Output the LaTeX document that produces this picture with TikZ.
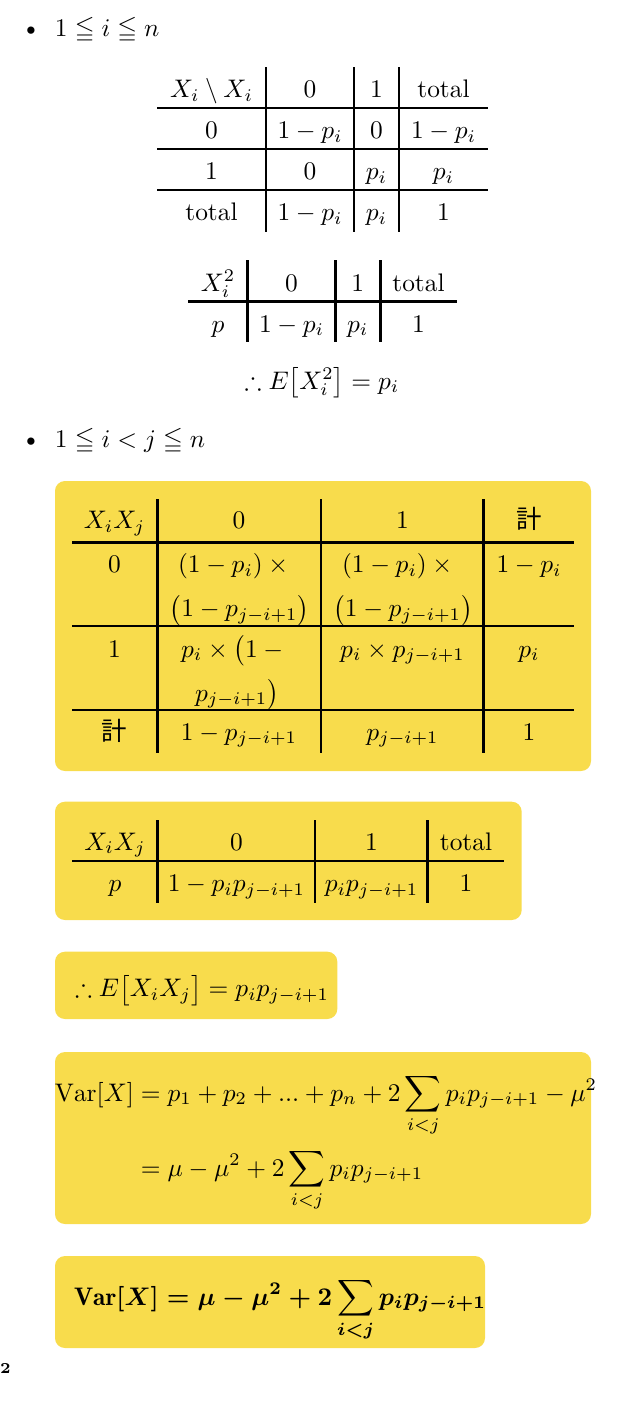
\documentclass[tikz,border=0pt]{standalone}
\usepackage{amsmath,amssymb}
\usepackage{fontspec}
\newfontfamily\cjk{Noto Sans CJK JP}
\usetikzlibrary{calc}
\definecolor{boxyellow}{HTML}{F8DC4C}
\newcommand\myfinaltext{{\mathversion{bold}$\displaystyle\mathrm{Var}[X]=\mu-\mu^2+2\sum_{i<j}p_ip_{j-i+1}$}}
\begin{document}
\begin{tikzpicture}[x=0.3937pt,y=-0.3937pt,
  txt/.style={anchor=base,inner sep=0pt,outer sep=0pt},
  txtl/.style={anchor=base west,inner sep=0pt,outer sep=0pt},
  rule/.style={line width=1pt,line cap=butt},
  ybox/.style={fill=boxyellow,draw=none,rounded corners=3.9pt}]
\useasboundingbox (0,0) rectangle (644,1402);

% ---------- bullet 1 ----------
\node[txt]  (b1) at (31,36) {\textbullet};
\node[txtl] (c1) at (55,36) {$1\leqq i\leqq n$};

% ---------- table 1 ----------
\foreach \x in {266,354,399} \draw[rule] (\x,67) -- (\x,232);
\foreach \y in {108,149,190} \draw[rule] (157,\y) -- (488,\y);
\node[txt] (ta00) at (211.5,97.5) {$X_i\setminus X_i$};
\node[txt] (ta01) at (310,97.5) {$0$};
\node[txt] (ta02) at (376.5,97.5) {$1$};
\node[txt] (ta03) at (443.5,97.5) {total};
\node[txt] (ta10) at (211.5,138.5) {$0$};
\node[txt] (ta11) at (310,138.5) {$1-p_i$};
\node[txt] (ta12) at (376.5,138.5) {$0$};
\node[txt] (ta13) at (443.5,138.5) {$1-p_i$};
\node[txt] (ta20) at (211.5,179.5) {$1$};
\node[txt] (ta21) at (310,179.5) {$0$};
\node[txt] (ta22) at (376.5,179.5) {$p_i$};
\node[txt] (ta23) at (443.5,179.5) {$p_i$};
\node[txt] (ta30) at (211.5,220.5) {total};
\node[txt] (ta31) at (310,220.5) {$1-p_i$};
\node[txt] (ta32) at (376.5,220.5) {$p_i$};
\node[txt] (ta33) at (443.5,220.5) {$1$};

% ---------- table 2 ----------
\foreach \x in {247.7,335.3,380.3} \draw[rule] (\x,260) -- (\x,342);
\draw[rule] (188.3,301.7) -- (456.7,301.7);
\node[txt] (tb00) at (218,291) {$X_i^2$};
\node[txt] (tb01) at (291.5,291) {$0$};
\node[txt] (tb02) at (357.8,291) {$1$};
\node[txt] (tb03) at (418.5,291) {total};
\node[txt] (tb10) at (218,332) {$p$};
\node[txt] (tb11) at (291.5,332) {$1-p_i$};
\node[txt] (tb12) at (357.8,332) {$p_i$};
\node[txt] (tb13) at (418.5,332) {$1$};

\node[txt] (ea) at (322,389) {$\therefore E\bigl[X_i^2\bigr]=p_i$};

% ---------- bullet 2 ----------
\node[txt]  (b2) at (31,447) {\textbullet};
\node[txtl] (c2) at (55,447) {$1\leqq i<j\leqq n$};

% ---------- box 1 : table 3 ----------
\path[ybox] (55,481) rectangle (591,771);
\foreach \x in {157.3,321,483.7} \draw[rule] (\x,499) -- (\x,753);
\foreach \y in {542.3,626,710} \draw[rule] (72.3,\y) -- (574,\y);
\node[txt] (tc00) at (114.5,528.3) {$X_iX_j$};
\node[txt] (tc01) at (239,528.3) {$0$};
\node[txt] (tc02) at (402.5,528.3) {$1$};
\node[txt] (tc03) at (529,528.3) {\cjk 計};
\node[txt] (tc10) at (114.5,572.7) {$0$};
\node[txt] (tc11a) at (236,572.7) {$(1-p_i)\times{}$};
\node[txt] (tc11b) at (239.5,616.7) {$\bigl(1-p_{j-i+1}\bigr)$};
\node[txt] (tc12a) at (400,572.7) {$(1-p_i)\times{}$};
\node[txt] (tc12b) at (403,616.7) {$\bigl(1-p_{j-i+1}\bigr)$};
\node[txt] (tc13) at (529,572.7) {$1-p_i$};
\node[txt] (tc20) at (114.5,657) {$1$};
\node[txt] (tc21a) at (235,657) {$p_i\times\bigl(1-{}$};
\node[txt] (tc21b) at (237,701) {$p_{j-i+1}\bigr)$};
\node[txt] (tc22) at (402.5,657) {$p_i\times p_{j-i+1}$};
\node[txt] (tc23) at (529,657) {$p_i$};
\node[txt] (tc30) at (114.5,740) {\cjk 計};
\node[txt] (tc31) at (239,740) {$1-p_{j-i+1}$};
\node[txt] (tc32) at (402.5,740) {$p_{j-i+1}$};
\node[txt] (tc33) at (529,740) {$1$};

% ---------- box 2 : table 4 ----------
\path[ybox] (55,801.7) rectangle (521.7,920);
\foreach \x in {157.7,315,427.7} \draw[rule] (\x,820) -- (\x,903.3);
\draw[rule] (72.3,861) -- (504,861);
\node[txt] (td00) at (115,850) {$X_iX_j$};
\node[txt] (td01) at (236.5,850) {$0$};
\node[txt] (td02) at (371.5,850) {$1$};
\node[txt] (td03) at (466,850) {total};
\node[txt] (td10) at (115,891.7) {$p$};
\node[txt] (td11) at (236.5,891.7) {$1-p_ip_{j-i+1}$};
\node[txt] (td12) at (371.5,891.7) {$p_ip_{j-i+1}$};
\node[txt] (td13) at (466,891.7) {$1$};

% ---------- box 3 ----------
\path[ybox] (55,951.7) rectangle (337.3,1019);
\node[txtl] (eb) at (75,996.7) {$\therefore E\bigl[X_iX_j\bigr]=p_ip_{j-i+1}$};

% ---------- box 4 ----------
\path[ybox] (55,1052) rectangle (591,1224);
\node[txtl] (var) at (55,1101) {$\mathrm{Var}[X]$};
\node[txtl] (l1) at (var.base east) {$\displaystyle{}=p_1+p_2+...+p_n+2\sum_{i<j}p_ip_{j-i+1}-\mu^2$};
\node[txtl] (l2) at ($(var.base east)+(0,75)$) {$\displaystyle{}=\mu-\mu^2+2\sum_{i<j}p_ip_{j-i+1}$};

% ---------- box 5 ----------
\path[ybox] (55,1256) rectangle (485,1348);
\node[txtl] (fin) at (74,1305) {\myfinaltext};

% ---------- stray footnote ----------
\node[txtl] (fn) at (0,1373) {\fontsize{6}{7}\selectfont\bfseries 2};
\end{tikzpicture}
\end{document}
